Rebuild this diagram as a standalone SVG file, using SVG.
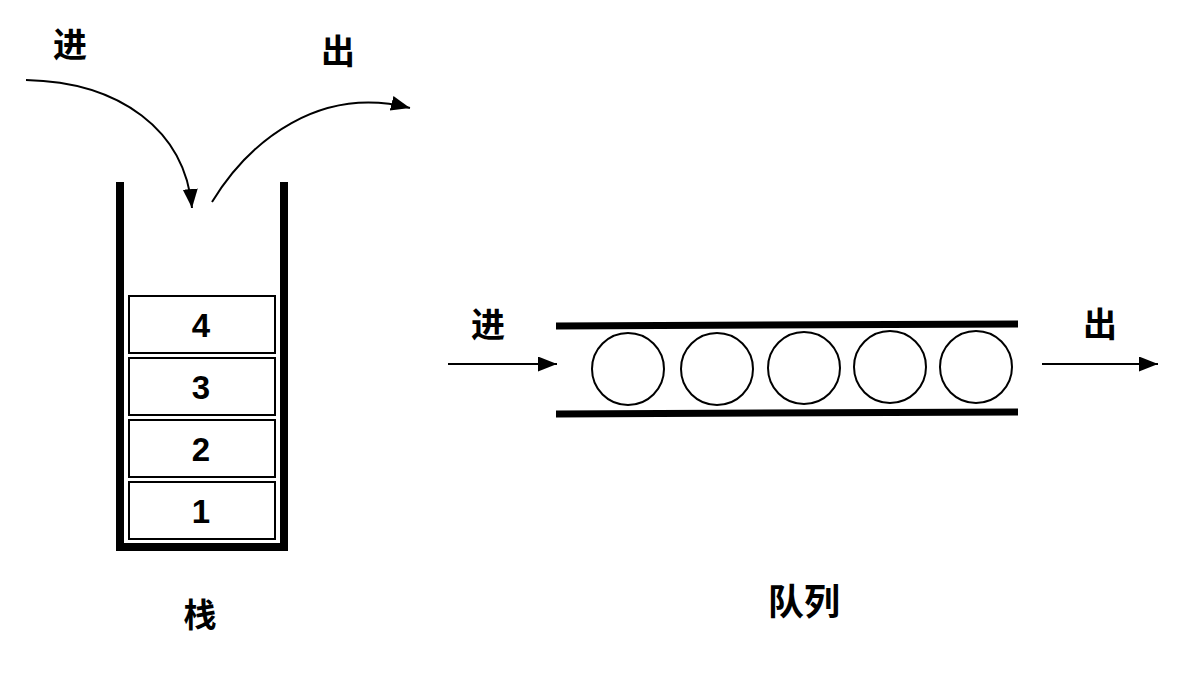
<svg xmlns="http://www.w3.org/2000/svg" width="1204" height="680" viewBox="0 0 1204 680">
<style>
.cjk{font-family:"Noto Sans CJK SC","Noto Sans",sans-serif;font-weight:bold;fill:#000;text-anchor:middle}
.num{font-family:"Liberation Sans",Arial,sans-serif;font-weight:bold;font-size:33px;fill:#000;text-anchor:middle}
.wall{stroke:#000;stroke-width:8;fill:none}
.box{fill:#fff;stroke:#000;stroke-width:2}
.ball{fill:#fff;stroke:#000;stroke-width:2}
.tube{stroke:#000;stroke-width:7;fill:none}
.conn{stroke:#000;stroke-width:2;fill:none}
</style>
<defs>
<marker id="ah" markerUnits="userSpaceOnUse" markerWidth="20" markerHeight="16" refX="19" refY="7.5" orient="auto">
<path d="M0,0 L19,7.5 L0,15 z" fill="#000"/>
</marker>
</defs>
<rect width="1204" height="680" fill="#fff"/>
<g id="stack">
<line class="wall" x1="120" y1="182" x2="120" y2="551"/>
<line class="wall" x1="284" y1="182" x2="284" y2="551"/>
<line class="wall" x1="116" y1="547" x2="288" y2="547"/>
</g>
<g id="item4"><rect class="box" x="129" y="296" width="146" height="57"/><text class="num" x="201" y="337">4</text></g>
<g id="item3"><rect class="box" x="129" y="358" width="146" height="57"/><text class="num" x="201" y="399">3</text></g>
<g id="item2"><rect class="box" x="129" y="420" width="146" height="57"/><text class="num" x="201" y="461">2</text></g>
<g id="item1"><rect class="box" x="129" y="482" width="146" height="57"/><text class="num" x="201" y="523">1</text></g>
<g id="queue">
<line class="tube" x1="556" y1="326" x2="1018" y2="324"/>
<line class="tube" x1="556" y1="414" x2="1018" y2="412"/>
</g>
<g id="ball1"><circle class="ball" cx="628" cy="369" r="36"/></g>
<g id="ball2"><circle class="ball" cx="717" cy="369" r="36"/></g>
<g id="ball3"><circle class="ball" cx="804" cy="368" r="36"/></g>
<g id="ball4"><circle class="ball" cx="890" cy="367" r="36"/></g>
<g id="ball5"><circle class="ball" cx="976" cy="367" r="36"/></g>
<g id="labels">
<text class="cjk" x="70" y="57" font-size="34">进</text>
<text class="cjk" x="338" y="64" font-size="34">出</text>
<text class="cjk" x="488" y="337" font-size="34">进</text>
<text class="cjk" x="1100" y="337" font-size="34">出</text>
<text class="cjk" x="200" y="627" font-size="33">栈</text>
<text class="cjk" x="804" y="615" font-size="36">队列</text>
</g>
<g id="connectors">
<path class="conn" d="M26,80 C120,82 185,130 192,208" marker-end="url(#ah)"/>
<path class="conn" d="M212,202 C250,140 320,85 410,108" marker-end="url(#ah)"/>
<line class="conn" x1="448" y1="364" x2="557" y2="364" marker-end="url(#ah)"/>
<line class="conn" x1="1042" y1="364" x2="1158" y2="364" marker-end="url(#ah)"/>
</g>
</svg>
